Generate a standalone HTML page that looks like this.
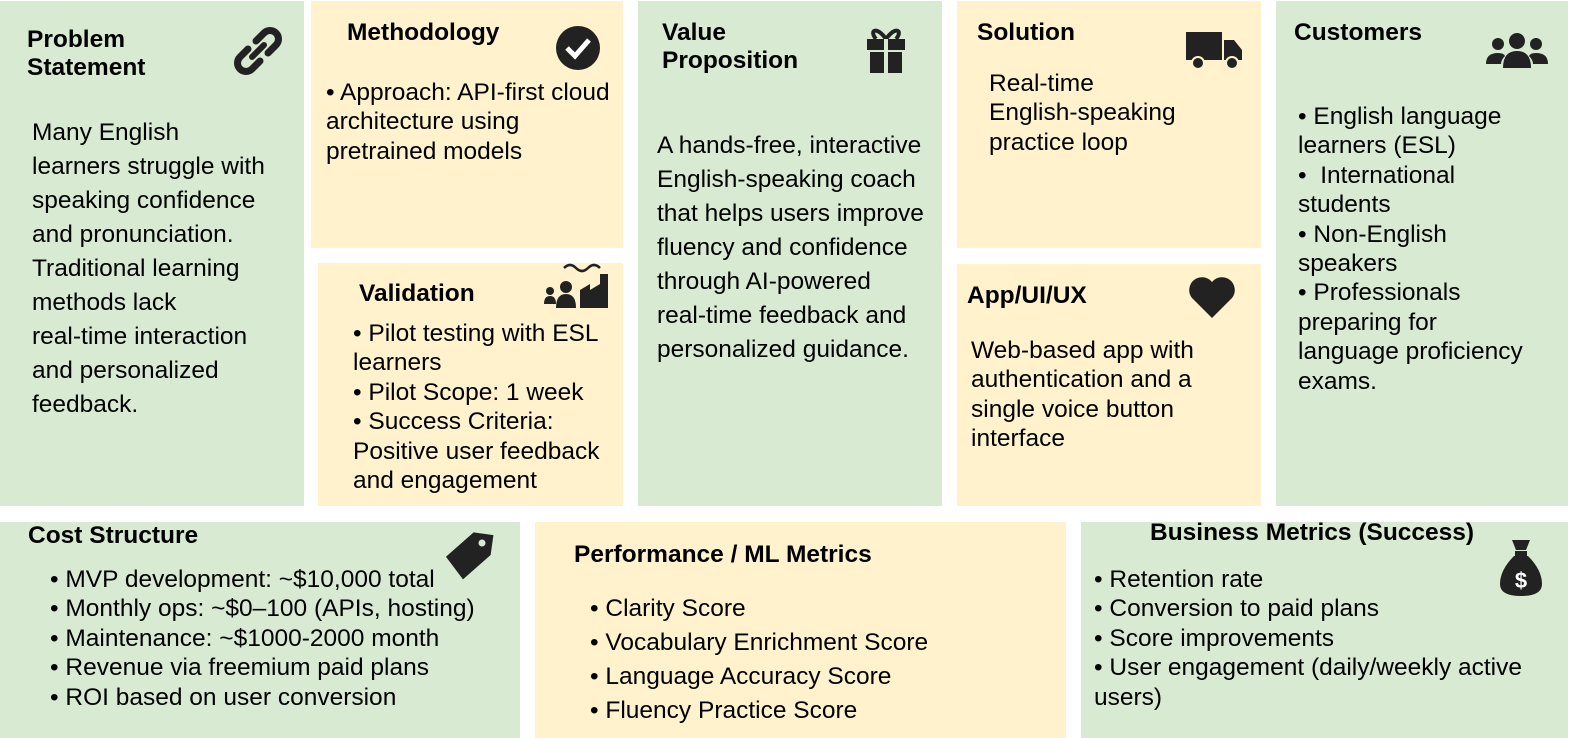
<!DOCTYPE html>
<html><head><meta charset="utf-8"><style>
body{margin:0;width:1578px;height:738px;background:#fff;position:relative;overflow:hidden;font-family:"Liberation Sans",Arial,Helvetica,sans-serif;color:#000}
.b{position:absolute}
.g{background:#d9ead3}
.y{background:#fff2cc}
.t{position:absolute;font-size:24.5px;white-space:nowrap}
.h{font-weight:bold;line-height:28px}
.l34{line-height:34px}
.l29{line-height:29.4px}
svg{position:absolute}
</style></head><body>
<div class="b g" style="left:0;top:1px;width:304px;height:505px"></div>
<div class="b y" style="left:311px;top:1px;width:312px;height:247px"></div>
<div class="b y" style="left:318px;top:263px;width:305px;height:243px"></div>
<div class="b g" style="left:638px;top:1px;width:304px;height:505px"></div>
<div class="b y" style="left:957px;top:1px;width:304px;height:247px"></div>
<div class="b y" style="left:957px;top:264px;width:304px;height:242px"></div>
<div class="b g" style="left:1276px;top:1px;width:292px;height:505px"></div>
<div class="b g" style="left:0;top:522px;width:520px;height:216px"></div>
<div class="b y" style="left:535px;top:522px;width:531px;height:216px"></div>
<div class="b g" style="left:1081px;top:522px;width:487px;height:216px"></div>

<div class="t h" style="left:27px;top:26px">Problem<br>Statement</div>
<div class="t l34" style="left:32px;top:116px">Many English<br>learners struggle with<br>speaking confidence<br>and pronunciation.<br>Traditional learning<br>methods lack<br>real-time interaction<br>and personalized<br>feedback.</div>

<div class="t h" style="left:347px;top:19px">Methodology</div>
<div class="t l29" style="left:326px;top:78px">• Approach: API-first cloud<br>architecture using<br>pretrained models</div>

<div class="t h" style="left:359px;top:280px">Validation</div>
<div class="t l29" style="left:353px;top:319px">• Pilot testing with ESL<br>learners<br>• Pilot Scope: 1 week<br>• Success Criteria:<br>Positive user feedback<br>and engagement</div>

<div class="t h" style="left:662px;top:19px">Value<br>Proposition</div>
<div class="t l34" style="left:657px;top:129px">A hands-free, interactive<br>English-speaking coach<br>that helps users improve<br>fluency and confidence<br>through AI-powered<br>real-time feedback and<br>personalized guidance.</div>

<div class="t h" style="left:977px;top:19px">Solution</div>
<div class="t l29" style="left:989px;top:69px">Real-time<br>English-speaking<br>practice loop</div>

<div class="t h" style="left:967px;top:282px">App/UI/UX</div>
<div class="t l29" style="left:971px;top:336px">Web-based app with<br>authentication and a<br>single voice button<br>interface</div>

<div class="t h" style="left:1294px;top:19px">Customers</div>
<div class="t l29" style="left:1298px;top:102px">• English language<br>learners (ESL)<br>•&nbsp; International<br>students<br>• Non-English<br>speakers<br>• Professionals<br>preparing for<br>language proficiency<br>exams.</div>

<div class="t h" style="left:28px;top:522px">Cost Structure</div>
<div class="t l29" style="left:50px;top:565px">• MVP development: ~$10,000 total<br>• Monthly ops: ~$0–100 (APIs, hosting)<br>• Maintenance: ~$1000-2000 month<br>• Revenue via freemium paid plans<br>• ROI based on user conversion</div>

<div class="t h" style="left:574px;top:541px">Performance / ML Metrics</div>
<div class="t l34" style="left:590px;top:592px">• Clarity Score<br>• Vocabulary Enrichment Score<br>• Language Accuracy Score<br>• Fluency Practice Score</div>

<div class="t h" style="left:1150px;top:519px">Business Metrics (Success)</div>
<div class="t l29" style="left:1094px;top:565px">• Retention rate<br>• Conversion to paid plans<br>• Score improvements<br>• User engagement (daily/weekly active<br>users)</div>

<!-- icons -->
<svg style="left:234px;top:27px" width="48" height="48" viewBox="0 0 48 48"><g fill="none" stroke="#222" stroke-width="7" stroke-linecap="round"><path d="M22 14 L30 6 A7 7 0 0 1 42 18 L34 26"/><path d="M26 34 L18 42 A7 7 0 0 1 6 30 L14 22"/><path d="M18 30 L30 18" stroke-width="6"/></g></svg>
<svg style="left:555px;top:25px" width="46" height="46" viewBox="0 0 46 46"><circle cx="23" cy="23" r="22" fill="#222"/><path d="M12 23 L20 31 L34 15" fill="none" stroke="#fff" stroke-width="5"/></svg>
<svg style="left:866px;top:25px" width="40" height="50" viewBox="0 0 40 50"><path d="M20 14 C10 0 3 6 10 14 M20 14 C30 0 37 6 30 14" fill="none" stroke="#222" stroke-width="4"/><rect x="1" y="14" width="38" height="11" fill="#222"/><rect x="4" y="27" width="32" height="21" fill="#222"/><rect x="18" y="14" width="4" height="34" fill="#d9ead3"/></svg>
<svg style="left:1186px;top:30px" width="58" height="40" viewBox="0 0 58 40"><rect x="0" y="2" width="36" height="28" fill="#222"/><path d="M38 10 H48 L56 20 V30 H38 Z" fill="#222"/><circle cx="12" cy="33" r="6" fill="#222" stroke="#fff2cc" stroke-width="2"/><circle cx="46" cy="33" r="6" fill="#222" stroke="#fff2cc" stroke-width="2"/></svg>
<svg style="left:1486px;top:32px" width="62" height="36" viewBox="0 0 62 36"><circle cx="31" cy="9" r="8" fill="#222"/><path d="M17 36 Q17 19 31 19 Q45 19 45 36Z" fill="#222"/><circle cx="12" cy="12" r="6" fill="#222"/><path d="M0 32 Q0 21 12 21 Q18 21 19 24 Q15 28 15 32Z" fill="#222"/><circle cx="50" cy="12" r="6" fill="#222"/><path d="M62 32 Q62 21 50 21 Q44 21 43 24 Q47 28 47 32Z" fill="#222"/></svg>
<svg style="left:542px;top:262px" width="68" height="48" viewBox="0 0 68 48"><path d="M22 6 Q28 0 34 6 Q40 12 46 6 Q52 0 58 6" fill="none" stroke="#222" stroke-width="2.5"/><path d="M38 46 V28 L48 22 V28 L58 22 V12 H66 V46Z" fill="#222"/><circle cx="8" cy="29" r="4" fill="#222"/><path d="M2 42 Q2 34 8 34 Q14 34 14 42Z" fill="#222"/><circle cx="24" cy="25" r="6" fill="#222"/><path d="M14 46 Q14 32 24 32 Q34 32 34 46Z" fill="#222"/></svg>
<svg style="left:1188px;top:276px" width="48" height="42" viewBox="0 0 48 42"><path d="M24 42 L4 22 A11 11 0 0 1 24 6 A11 11 0 0 1 44 22 Z" fill="#222"/></svg>
<svg style="left:444px;top:528px" width="50" height="60" viewBox="0 0 50 60"><path d="M26 4 H46 V24 L22 52 L2 32 Z" fill="#222" transform="rotate(8 25 30)"/><circle cx="38" cy="15" r="3.5" fill="#d9ead3"/></svg>
<svg style="left:1498px;top:538px" width="46" height="60" viewBox="0 0 46 60"><path d="M14 2 H32 L28 12 H18 Z" fill="#222"/><rect x="17" y="13" width="12" height="5" fill="#222"/><path d="M16 18 H30 Q44 32 44 46 Q44 58 23 58 Q2 58 2 46 Q2 32 16 18Z" fill="#222"/><text x="23" y="50" text-anchor="middle" font-family="Liberation Sans" font-weight="bold" font-size="22" fill="#fff">$</text></svg>
</body></html>
